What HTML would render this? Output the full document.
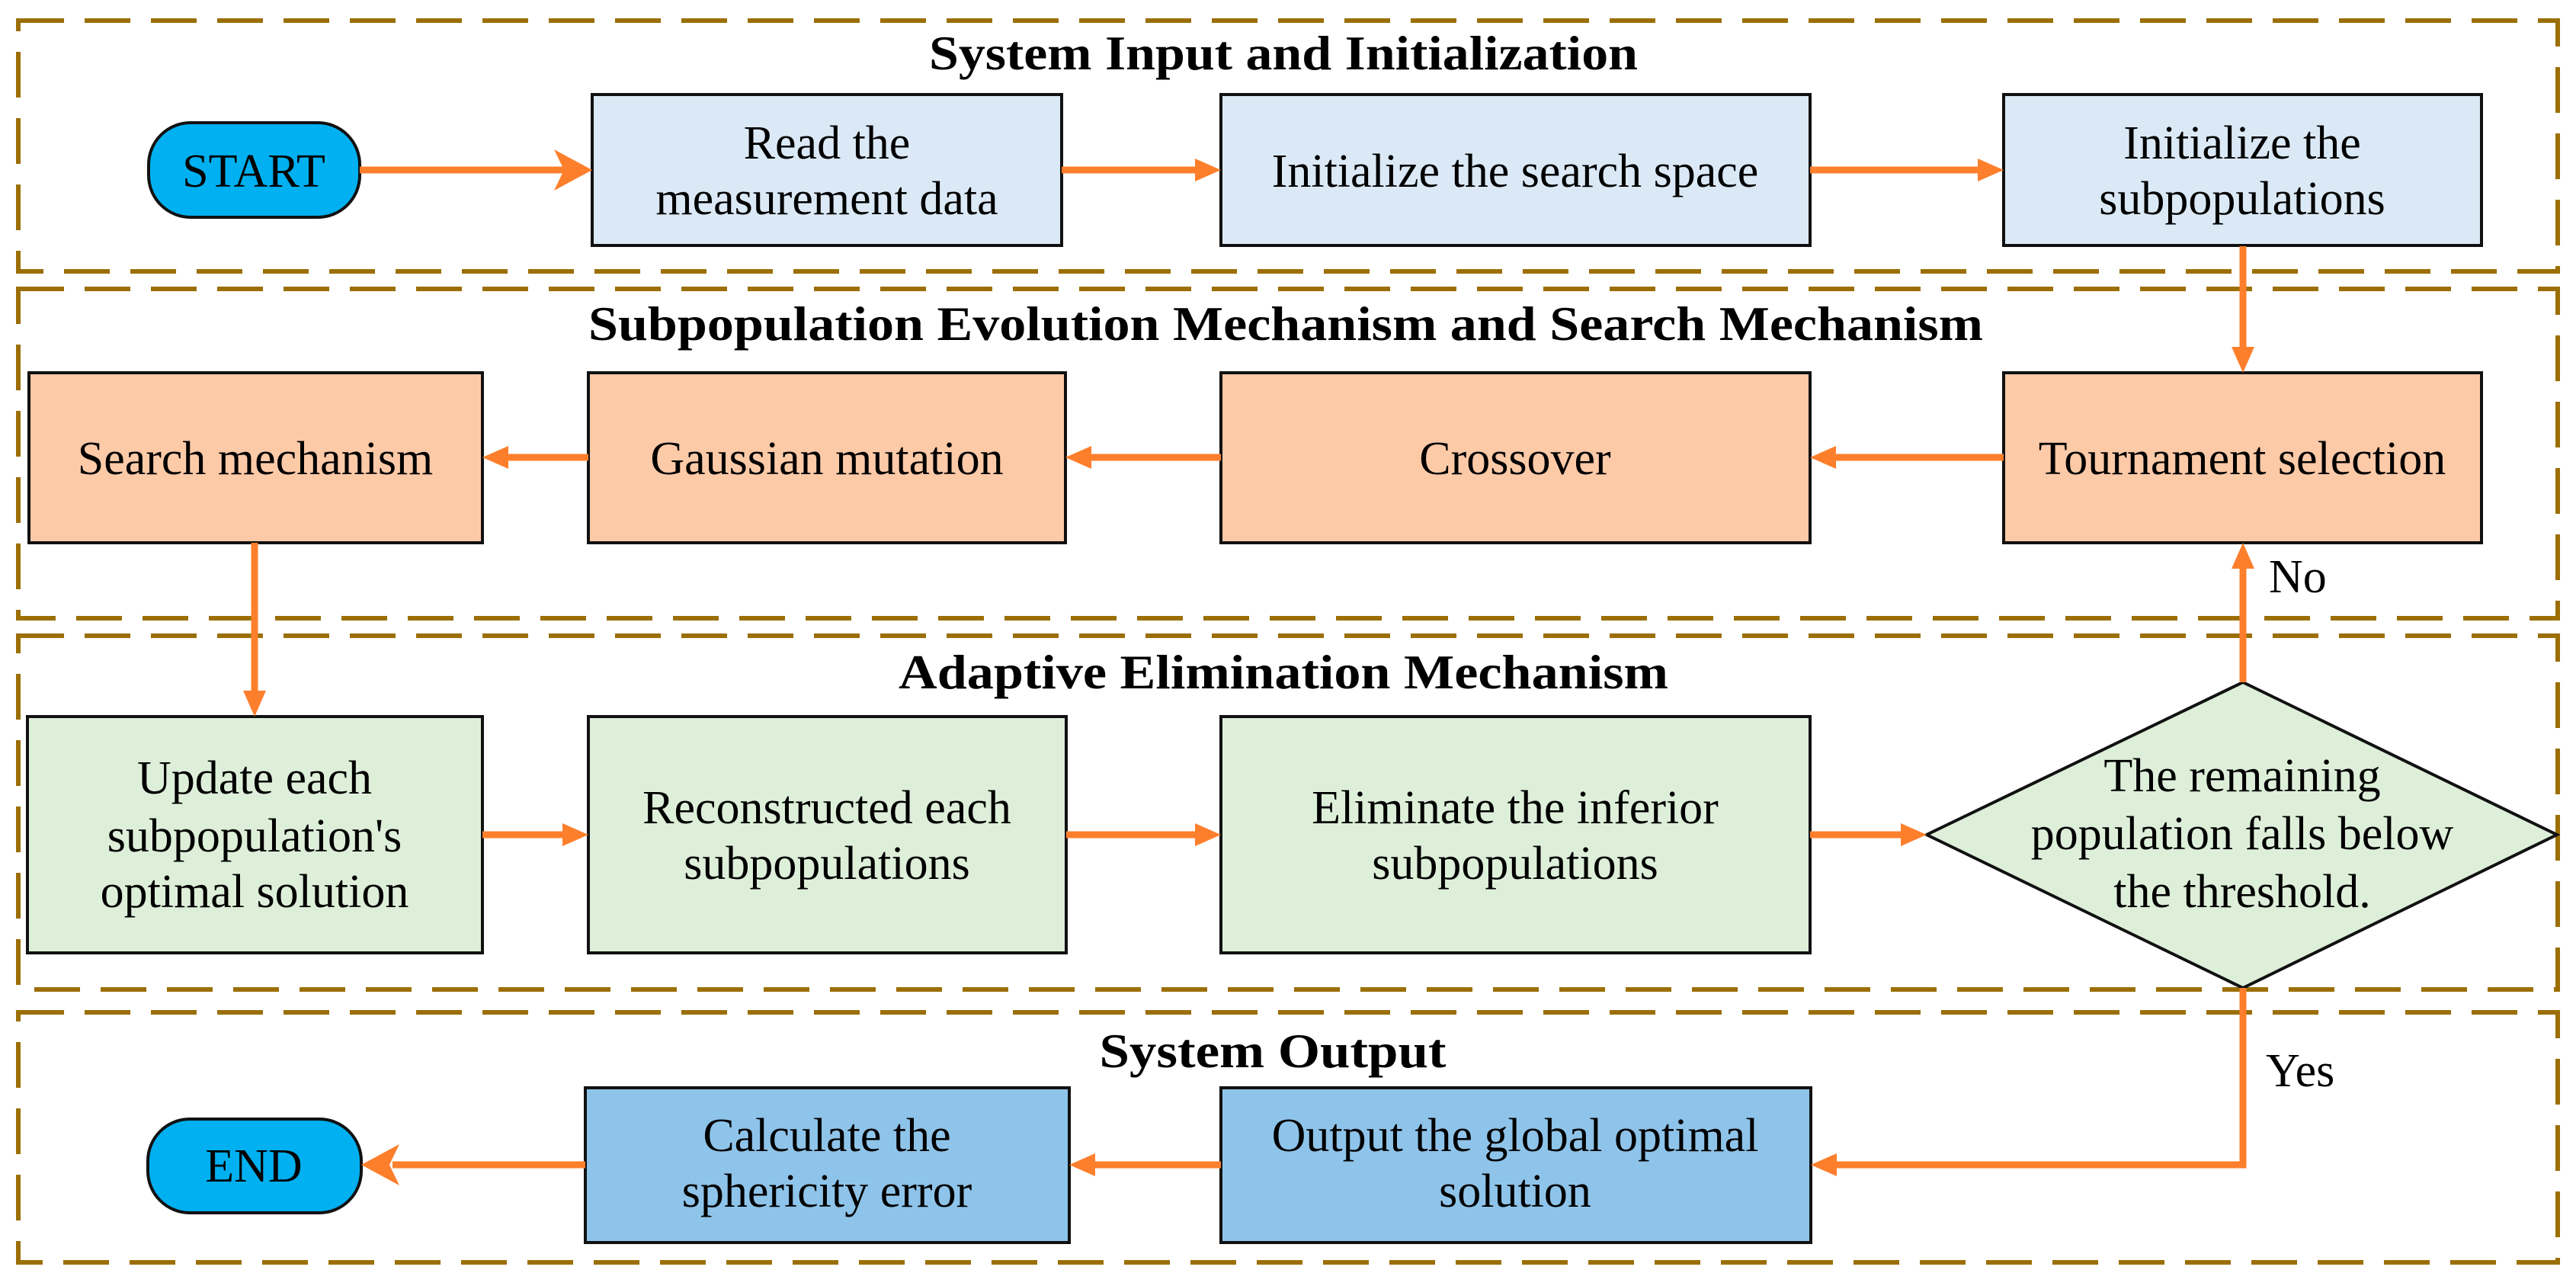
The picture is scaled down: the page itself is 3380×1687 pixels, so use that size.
<!DOCTYPE html>
<html><head><meta charset="utf-8"><style>
html,body{margin:0;padding:0;background:#fff;}
svg{display:block;}
text{font-family:"Liberation Serif","DejaVu Serif",serif;fill:#000;}
.t{font-size:64px;font-weight:bold;text-anchor:middle;}
.b{font-size:62px;text-anchor:middle;}
</style></head><body>
<svg width="3380" height="1687" viewBox="0 0 3380 1687" xmlns="http://www.w3.org/2000/svg" font-family="Liberation Serif, DejaVu Serif, serif">
<g fill="none" stroke="#9b6f05" stroke-width="6" stroke-dasharray="60 27">
<rect x="24" y="27" width="3332" height="329"/>
<rect x="24" y="379" width="3332" height="432"/>
<rect x="24" y="834" width="3332" height="464"/>
<rect x="24" y="1328" width="3332" height="328"/>
</g>
<text class="t" font-family="Liberation Serif, serif" x="1684" y="91" textLength="930" lengthAdjust="spacingAndGlyphs">System Input and Initialization</text>
<text class="t" font-family="Liberation Serif, serif" x="1687" y="446" textLength="1830" lengthAdjust="spacingAndGlyphs">Subpopulation Evolution Mechanism and Search Mechanism</text>
<text class="t" font-family="Liberation Serif, serif" x="1684" y="903" textLength="1010" lengthAdjust="spacingAndGlyphs">Adaptive Elimination Mechanism</text>
<text class="t" font-family="Liberation Serif, serif" x="1670" y="1400" textLength="455" lengthAdjust="spacingAndGlyphs">System Output</text>

<g stroke="#111" stroke-width="4">
<rect x="195" y="161" width="277" height="124" rx="55" fill="#00b0f0"/>
<rect x="777" y="124" width="616" height="198" fill="#dbe9f6"/>
<rect x="1602" y="124" width="773" height="198" fill="#dbe9f6"/>
<rect x="2629" y="124" width="627" height="198" fill="#dbe9f6"/>
<rect x="38" y="489" width="595" height="223" fill="#fdcaa8"/>
<rect x="772" y="489" width="626" height="223" fill="#fdcaa8"/>
<rect x="1602" y="489" width="773" height="223" fill="#fdcaa8"/>
<rect x="2629" y="489" width="627" height="223" fill="#fdcaa8"/>
<rect x="36" y="940" width="597" height="310" fill="#ddefd9"/>
<rect x="772" y="940" width="627" height="310" fill="#ddefd9"/>
<rect x="1602" y="940" width="773" height="310" fill="#ddefd9"/>
<polygon points="2943,895 3355,1095 2943,1296 2528,1095" fill="#ddefd9"/>
<rect x="768" y="1427" width="635" height="203" fill="#8fc4ea"/>
<rect x="1602" y="1427" width="774" height="203" fill="#8fc4ea"/>
<rect x="194" y="1468" width="280" height="123" rx="55" fill="#00b0f0"/>
</g>

<g font-family="Liberation Serif, serif">
<text class="b" x="333" y="245">START</text>
<text class="b" x="1085" y="208">Read the</text>
<text class="b" x="1085" y="281">measurement data</text>
<text class="b" x="1988" y="245">Initialize the search space</text>
<text class="b" x="2942" y="208">Initialize the</text>
<text class="b" x="2942" y="281">subpopulations</text>
<text class="b" x="335" y="622">Search mechanism</text>
<text class="b" x="1085" y="622">Gaussian mutation</text>
<text class="b" x="1988" y="622">Crossover</text>
<text class="b" x="2942" y="622">Tournament selection</text>
<text class="b" x="334" y="1041">Update each</text>
<text class="b" x="334" y="1117">subpopulation's</text>
<text class="b" x="334" y="1190">optimal solution</text>
<text class="b" x="1085" y="1080">Reconstructed each</text>
<text class="b" x="1085" y="1153">subpopulations</text>
<text class="b" x="1988" y="1080">Eliminate the inferior</text>
<text class="b" x="1988" y="1153">subpopulations</text>
<text class="b" x="2942" y="1038">The remaining</text>
<text class="b" x="2942" y="1114">population falls below</text>
<text class="b" x="2942" y="1190">the threshold.</text>
<text class="b" x="1085" y="1510">Calculate the</text>
<text class="b" x="1085" y="1583">sphericity error</text>
<text class="b" x="1988" y="1510">Output the global optimal</text>
<text class="b" x="1988" y="1583">solution</text>
<text class="b" x="333" y="1550">END</text>
<text x="2977" y="777" style="font-size:62px">No</text>
<text x="2973" y="1425" style="font-size:62px">Yes</text>
</g>

<g stroke="#fd7f2c" stroke-width="9" fill="none">
<line x1="472" y1="223" x2="740" y2="223"/>
<line x1="1393" y1="223" x2="1570" y2="223"/>
<line x1="2375" y1="223" x2="2597" y2="223"/>
<line x1="2943" y1="323" x2="2943" y2="458"/>
<line x1="2629" y1="600" x2="2408" y2="600"/>
<line x1="1602" y1="600" x2="1430" y2="600"/>
<line x1="772" y1="600" x2="665" y2="600"/>
<line x1="334" y1="712" x2="334" y2="908"/>
<line x1="633" y1="1095" x2="740" y2="1095"/>
<line x1="1399" y1="1095" x2="1570" y2="1095"/>
<line x1="2375" y1="1095" x2="2496" y2="1095"/>
<line x1="2943" y1="895" x2="2943" y2="745"/>
<polyline points="2943,1296 2943,1528 2410,1528"/>
<line x1="1602" y1="1528" x2="1436" y2="1528"/>
<line x1="768" y1="1528" x2="515" y2="1528"/>
</g>
<g fill="#fd7f2c">
<polygon points="777,223 727,196 740,223 727,250"/>
<polygon points="1602,223 1568,208 1568,238"/>
<polygon points="2629,223 2595,208 2595,238"/>
<polygon points="2943,489 2928,455 2958,455"/>
<polygon points="2375,600 2409,585 2409,615"/>
<polygon points="1398,600 1432,585 1432,615"/>
<polygon points="633,600 667,585 667,615"/>
<polygon points="334,940 319,906 349,906"/>
<polygon points="772,1095 738,1080 738,1110"/>
<polygon points="1602,1095 1568,1080 1568,1110"/>
<polygon points="2528,1095 2494,1080 2494,1110"/>
<polygon points="2943,712 2928,746 2958,746"/>
<polygon points="2376,1528 2410,1513 2410,1543"/>
<polygon points="1403,1528 1437,1513 1437,1543"/>
<polygon points="474,1528 524,1501 511,1528 524,1555"/>
</g>
</svg>
</body></html>
